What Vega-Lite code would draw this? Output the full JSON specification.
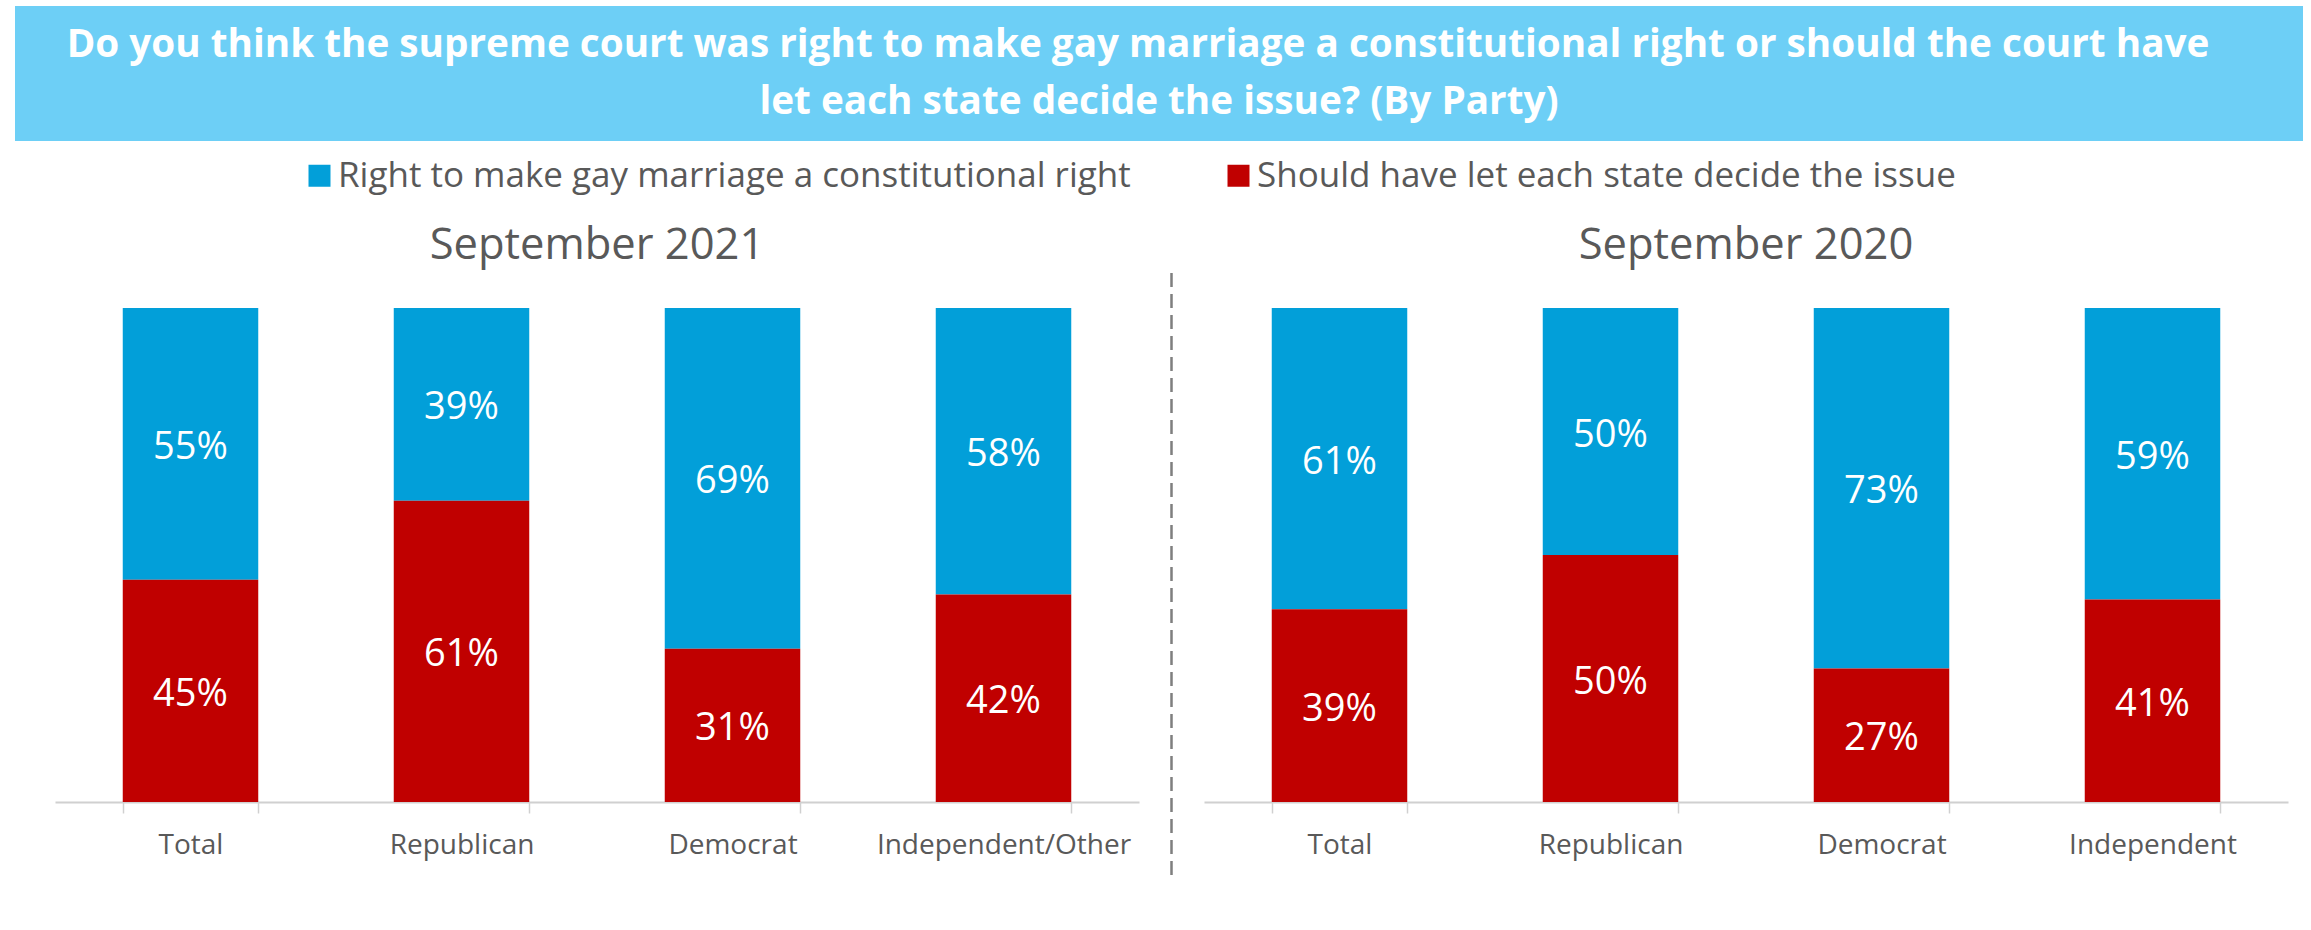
{
  "$schema": "https://vega.github.io/schema/vega-lite/v6.json",
  "background": "white",
  "padding": {"left": 15, "top": 6, "right": 0, "bottom": 0},
  "config": {"view": {"stroke": null}, "font": "Open Sans"},
  "datasets": {
    "bars": [
      {"panel": "2021", "cat": "Total", "series": "Right to make gay marriage a constitutional right", "ord": 1, "v": 0.55},
      {"panel": "2021", "cat": "Total", "series": "Should have let each state decide the issue", "ord": 0, "v": 0.45},
      {"panel": "2021", "cat": "Republican", "series": "Right to make gay marriage a constitutional right", "ord": 1, "v": 0.39},
      {"panel": "2021", "cat": "Republican", "series": "Should have let each state decide the issue", "ord": 0, "v": 0.61},
      {"panel": "2021", "cat": "Democrat", "series": "Right to make gay marriage a constitutional right", "ord": 1, "v": 0.69},
      {"panel": "2021", "cat": "Democrat", "series": "Should have let each state decide the issue", "ord": 0, "v": 0.31},
      {"panel": "2021", "cat": "Independent/Other", "series": "Right to make gay marriage a constitutional right", "ord": 1, "v": 0.58},
      {"panel": "2021", "cat": "Independent/Other", "series": "Should have let each state decide the issue", "ord": 0, "v": 0.42},
      {"panel": "2020", "cat": "Total", "series": "Right to make gay marriage a constitutional right", "ord": 1, "v": 0.61},
      {"panel": "2020", "cat": "Total", "series": "Should have let each state decide the issue", "ord": 0, "v": 0.39},
      {"panel": "2020", "cat": "Republican", "series": "Right to make gay marriage a constitutional right", "ord": 1, "v": 0.50},
      {"panel": "2020", "cat": "Republican", "series": "Should have let each state decide the issue", "ord": 0, "v": 0.50},
      {"panel": "2020", "cat": "Democrat", "series": "Right to make gay marriage a constitutional right", "ord": 1, "v": 0.73},
      {"panel": "2020", "cat": "Democrat", "series": "Should have let each state decide the issue", "ord": 0, "v": 0.27},
      {"panel": "2020", "cat": "Independent", "series": "Right to make gay marriage a constitutional right", "ord": 1, "v": 0.59},
      {"panel": "2020", "cat": "Independent", "series": "Should have let each state decide the issue", "ord": 0, "v": 0.41}
    ]
  },
  "bounds": "flush",
  "spacing": 167,
  "vconcat": [
    {
      "width": 2288,
      "height": 135,
      "view": {"fill": "#6DCFF6", "stroke": null},
      "data": {"values": [
        {"line": 1, "text": "Do you think the supreme court was right to make gay marriage a constitutional right or should the court have"},
        {"line": 2, "text": "let each state decide the issue? (By Party)"}
      ]},
      "encoding": {
        "y": {"field": "line", "type": "ordinal", "axis": null, "scale": {"padding": 0.68, "align": 0.5}},
        "text": {"field": "text", "type": "nominal"}
      },
      "layer": [
        {
          "transform": [{"filter": {"field": "line", "equal": 1}}],
          "mark": {"type": "text", "color": "white", "font": "Open Sans", "fontWeight": "bold", "fontSize": 38.7, "baseline": "middle", "align": "center", "dx": -21}
        },
        {
          "transform": [{"filter": {"field": "line", "equal": 2}}],
          "mark": {"type": "text", "color": "white", "font": "Open Sans", "fontWeight": "bold", "fontSize": 38.7, "baseline": "middle", "align": "center"}
        }
      ]
    },
    {
      "bounds": "flush",
      "spacing": 32,
      "hconcat": [
        {
          "width": 8,
          "height": 494,
          "data": {"values": [{}]},
          "mark": {"type": "point", "opacity": 0},
          "encoding": {}
        },
        {
          "width": 1084,
          "height": 494,
          "title": {"text": "September 2021", "font": "Open Sans", "fontSize": 43.5, "fontWeight": "normal", "color": "#595959", "anchor": "middle", "offset": 40},
          "data": {"name": "bars"},
          "transform": [{"filter": {"field": "panel", "equal": "2021"}}],
          "encoding": {
            "x": {"field": "cat", "type": "nominal", "sort": null, "title": null,
                  "scale": {"paddingInner": 0.5, "paddingOuter": 0.25},
                  "axis": {"labelFont": "Open Sans", "labelFontSize": 28, "labelColor": "#595959", "labelAngle": 0, "labelPadding": 18, "labelLimit": 400, "tickSize": 11, "tickColor": "#D0D0D0", "tickWidth": 1.5, "domainColor": "#D0D0D0", "domainWidth": 2, "tickBand": "extent"}}
          },
          "layer": [
            {
              "mark": {"type": "bar"},
              "encoding": {
                "y": {"field": "v", "type": "quantitative", "stack": "zero", "scale": {"domain": [0, 1], "nice": false}, "axis": null},
                "color": {"field": "series", "type": "nominal",
                  "scale": {"domain": ["Right to make gay marriage a constitutional right", "Should have let each state decide the issue"], "range": ["#029FD9", "#C00000"]},
                  "legend": {"orient": "none", "direction": "horizontal", "title": null, "legendX": 287, "legendY": 152, "padding": 0, "symbolType": "square", "symbolSize": 484, "symbolStrokeWidth": 0, "labelFont": "Open Sans", "labelFontSize": 35, "labelColor": "#595959", "labelLimit": 1200, "labelOffset": 1, "columnPadding": 90}},
                "order": {"field": "ord", "type": "quantitative"}
              }
            },
            {
              "transform": [
                {"stack": "v", "groupby": ["cat"], "sort": [{"field": "ord", "order": "ascending"}], "as": ["s0", "s1"]},
                {"fold": ["s0", "s1"], "as": ["end", "pos"]}
              ],
              "mark": {"type": "text", "color": "white", "font": "Open Sans", "fontSize": 38, "baseline": "middle", "align": "center", "dy": 4},
              "encoding": {
                "y": {"field": "pos", "type": "quantitative", "aggregate": "mean", "stack": null, "axis": null},
                "detail": {"field": "series", "type": "nominal"},
                "text": {"field": "v", "type": "quantitative", "aggregate": "max", "format": ".0%"}
              }
            }
          ]
        },
        {
          "width": 1,
          "height": 494,
          "data": {"values": [{}]},
          "mark": {"type": "rule", "color": "#7F7F7F", "strokeWidth": 2.5, "strokeDash": [14, 7]},
          "encoding": {
            "y": {"datum": -0.148, "type": "quantitative", "scale": {"domain": [0, 1], "nice": false}, "axis": null},
            "y2": {"datum": 1.083}
          }
        },
        {
          "width": 1084,
          "height": 494,
          "title": {"text": "September 2020", "font": "Open Sans", "fontSize": 43.5, "fontWeight": "normal", "color": "#595959", "anchor": "middle", "offset": 40},
          "data": {"name": "bars"},
          "transform": [{"filter": {"field": "panel", "equal": "2020"}}],
          "encoding": {
            "x": {"field": "cat", "type": "nominal", "sort": null, "title": null,
                  "scale": {"paddingInner": 0.5, "paddingOuter": 0.25},
                  "axis": {"labelFont": "Open Sans", "labelFontSize": 28, "labelColor": "#595959", "labelAngle": 0, "labelPadding": 18, "labelLimit": 400, "tickSize": 11, "tickColor": "#D0D0D0", "tickWidth": 1.5, "domainColor": "#D0D0D0", "domainWidth": 2, "tickBand": "extent"}}
          },
          "layer": [
            {
              "mark": {"type": "bar"},
              "encoding": {
                "y": {"field": "v", "type": "quantitative", "stack": "zero", "scale": {"domain": [0, 1], "nice": false}, "axis": null},
                "color": {"field": "series", "type": "nominal",
                  "scale": {"domain": ["Right to make gay marriage a constitutional right", "Should have let each state decide the issue"], "range": ["#029FD9", "#C00000"]},
                  "legend": {"orient": "none", "direction": "horizontal", "title": null, "legendX": 287, "legendY": 152, "padding": 0, "symbolType": "square", "symbolSize": 484, "symbolStrokeWidth": 0, "labelFont": "Open Sans", "labelFontSize": 35, "labelColor": "#595959", "labelLimit": 1200, "labelOffset": 1, "columnPadding": 90}},
                "order": {"field": "ord", "type": "quantitative"}
              }
            },
            {
              "transform": [
                {"stack": "v", "groupby": ["cat"], "sort": [{"field": "ord", "order": "ascending"}], "as": ["s0", "s1"]},
                {"fold": ["s0", "s1"], "as": ["end", "pos"]}
              ],
              "mark": {"type": "text", "color": "white", "font": "Open Sans", "fontSize": 38, "baseline": "middle", "align": "center", "dy": 4},
              "encoding": {
                "y": {"field": "pos", "type": "quantitative", "aggregate": "mean", "stack": null, "axis": null},
                "detail": {"field": "series", "type": "nominal"},
                "text": {"field": "v", "type": "quantitative", "aggregate": "max", "format": ".0%"}
              }
            }
          ]
        }
      ]
    }
  ]
}
